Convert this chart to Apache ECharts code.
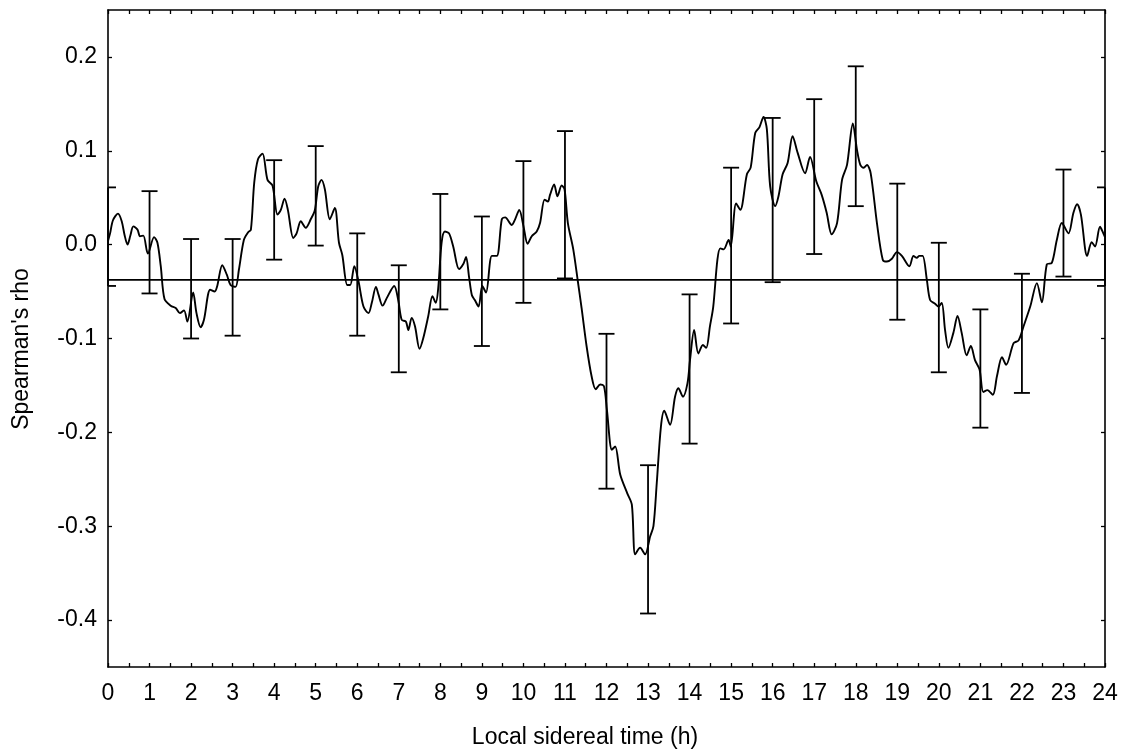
<!DOCTYPE html>
<html>
<head>
<meta charset="utf-8">
<script src="https://cdn.jsdelivr.net/npm/echarts@6/dist/echarts.min.js"></script>
<style>html,body{margin:0;padding:0;background:#fff;}#c{width:1122px;height:752px;}</style>
</head>
<body>
<div id="c"></div>
<script>
// ---- data ----
const hours = [0.00,0.05,0.12,0.24,0.33,0.40,0.47,0.54,0.61,0.71,0.77,0.85,0.96,1.11,1.19,1.27,1.36,1.51,1.63,1.73,1.83,1.91,2.05,2.13,2.23,2.31,2.46,2.57,2.63,2.75,2.86,2.95,3.07,3.15,3.27,3.37,3.44,3.52,3.61,3.72,3.84,3.96,4.08,4.16,4.25,4.33,4.46,4.54,4.64,4.76,4.88,4.98,5.06,5.14,5.22,5.34,5.46,5.56,5.64,5.76,5.83,5.93,6.03,6.15,6.27,6.35,6.45,6.51,6.61,6.71,6.89,6.99,7.07,7.17,7.23,7.31,7.39,7.50,7.59,7.71,7.81,7.89,7.95,8.03,8.11,8.21,8.31,8.45,8.56,8.62,8.69,8.76,8.83,8.92,9.01,9.10,9.24,9.36,9.48,9.56,9.72,9.80,9.90,10.00,10.10,10.20,10.32,10.40,10.51,10.59,10.64,10.74,10.82,10.92,10.99,11.07,11.20,11.31,11.40,11.52,11.64,11.74,11.85,11.94,12.01,12.13,12.21,12.33,12.50,12.61,12.69,12.81,12.93,13.05,13.13,13.21,13.31,13.39,13.53,13.65,13.73,13.84,13.95,14.01,14.11,14.21,14.32,14.40,14.49,14.57,14.67,14.74,14.82,14.94,14.99,15.12,15.22,15.38,15.47,15.58,15.68,15.78,15.86,15.94,16.06,16.14,16.24,16.36,16.48,16.60,16.78,16.90,17.05,17.18,17.30,17.42,17.55,17.67,17.79,17.93,18.03,18.11,18.19,18.27,18.36,18.51,18.65,18.75,18.87,18.99,19.11,19.29,19.39,19.47,19.53,19.61,19.71,19.79,19.91,19.99,20.07,20.15,20.23,20.35,20.45,20.55,20.67,20.77,20.87,20.98,21.07,21.17,21.30,21.40,21.52,21.62,21.80,21.92,22.04,22.20,22.36,22.48,22.60,22.72,22.84,22.96,23.12,23.24,23.33,23.42,23.57,23.68,23.76,23.88,23.96,24.00];
const rho = [0.004,0.012,0.026,0.033,0.025,0.010,0.000,0.010,0.0195,0.016,0.009,0.0096,-0.0096,0.008,0.002,-0.023,-0.058,-0.065,-0.0675,-0.073,-0.070,-0.082,-0.051,-0.073,-0.088,-0.080,-0.048,-0.050,-0.044,-0.022,-0.032,-0.043,-0.045,-0.027,0.005,0.013,0.016,0.066,0.091,0.097,0.069,0.063,0.032,0.037,0.049,0.037,0.007,0.012,0.025,0.018,0.027,0.037,0.062,0.069,0.059,0.027,0.039,0.002,-0.011,-0.043,-0.043,-0.023,-0.039,-0.066,-0.073,-0.062,-0.045,-0.053,-0.065,-0.057,-0.044,-0.060,-0.080,-0.082,-0.091,-0.078,-0.087,-0.111,-0.0995,-0.076,-0.055,-0.062,-0.046,0.002,0.014,0.012,-0.002,-0.026,-0.020,-0.013,-0.034,-0.054,-0.059,-0.066,-0.044,-0.051,-0.012,-0.012,0.027,0.029,0.021,0.027,0.037,0.020,0.001,0.009,0.014,0.023,0.048,0.046,0.053,0.064,0.0515,0.063,0.059,0.023,-0.005,-0.039,-0.0675,-0.108,-0.140,-0.154,-0.149,-0.151,-0.176,-0.2185,-0.215,-0.245,-0.265,-0.277,-0.330,-0.323,-0.330,-0.311,-0.300,-0.254,-0.194,-0.177,-0.192,-0.162,-0.153,-0.162,-0.1475,-0.123,-0.091,-0.116,-0.107,-0.110,-0.087,-0.066,-0.016,-0.004,-0.005,0.005,-0.002,0.044,0.037,0.075,0.082,0.119,0.125,0.136,0.123,0.062,0.041,0.0515,0.075,0.087,0.1155,0.098,0.076,0.0935,0.0675,0.053,0.034,0.011,0.023,0.069,0.085,0.129,0.101,0.085,0.082,0.085,0.076,0.023,-0.016,-0.018,-0.015,-0.008,-0.012,-0.023,-0.012,-0.014,-0.012,-0.012,-0.037,-0.059,-0.063,-0.066,-0.062,-0.091,-0.110,-0.094,-0.076,-0.094,-0.118,-0.108,-0.123,-0.133,-0.157,-0.155,-0.160,-0.140,-0.120,-0.128,-0.105,-0.102,-0.087,-0.066,-0.041,-0.0615,-0.021,-0.0195,0.005,0.023,0.012,0.034,0.043,0.032,-0.012,0.0025,-0.002,0.019,0.012,0.008];

const errHours = [0,1,2,3,4,5,6,7,8,9,10,11,12,13,14,15,16,17,18,19,20,21,22,23,24];
const errHi = [0.061,0.057,0.006,0.006,0.090,0.105,0.012,-0.022,0.054,0.030,0.089,0.121,-0.095,-0.235,-0.053,0.082,0.135,0.155,0.190,0.065,0.002,-0.069,-0.031,0.080,0.061];
const errLo = [-0.044,-0.052,-0.100,-0.097,-0.016,-0.001,-0.097,-0.136,-0.069,-0.108,-0.062,-0.036,-0.260,-0.393,-0.212,-0.084,-0.040,-0.010,0.041,-0.080,-0.136,-0.195,-0.158,-0.034,-0.044];

const refValue = -0.0375;

const xTickLabels = [0,1,2,3,4,5,6,7,8,9,10,11,12,13,14,15,16,17,18,19,20,21,22,23,24];
const xTickMarks = [0,0.5,1,1.5,2,2.5,3,3.5,4,4.5,5,5.5,6,6.5,7,7.5,8,8.5,9,9.5,10,10.5,11,11.5,12,12.5,13,13.5,14,14.5,15,15.5,16,16.5,17,17.5,18,18.5,19,19.5,20,20.5,21,21.5,22,22.5,23,23.5,24];
const yTickLabels = [-0.4,-0.3,-0.2,-0.1,0.0,0.1,0.2];

const xTitle = 'Local sidereal time (h)';
const yTitle = "Spearman's rho";

// ---- chart ----
const FONT = "'Liberation Sans', Arial, sans-serif";
const FS = 23;
const chart = echarts.init(document.getElementById('c'), null, {renderer: 'canvas'});

const axLine = {show: true, onZero: false, lineStyle: {color: '#000', width: 1.6}};
const tickStyle = {lineStyle: {color: '#000', width: 1.3}};

const option = {
  animation: false,
  backgroundColor: '#fff',
  grid: {left: 108, right: 17, top: 10, bottom: 85, show: false},
  xAxis: [
    {type: 'value', min: 0, max: 24, position: 'bottom',
     axisLine: axLine, splitLine: {show: false},
     axisTick: Object.assign({show: true, inside: true, length: 4, customValues: xTickMarks}, tickStyle),
     axisLabel: {show: true, customValues: xTickLabels, color: '#000', fontSize: FS, fontFamily: FONT, margin: 15}},
    {type: 'value', min: 0, max: 24, position: 'top',
     axisLine: axLine, splitLine: {show: false},
     axisTick: Object.assign({show: true, inside: true, length: 4, customValues: xTickMarks}, tickStyle),
     axisLabel: {show: false}}
  ],
  yAxis: [
    {type: 'value', min: -0.45, max: 0.25, position: 'left',
     axisLine: axLine, splitLine: {show: false},
     axisTick: Object.assign({show: true, inside: true, length: 4, customValues: yTickLabels}, tickStyle),
     axisLabel: {show: true, customValues: yTickLabels, color: '#000', fontSize: FS, fontFamily: FONT, margin: 11,
                 formatter: v => v.toFixed(1)}},
    {type: 'value', min: -0.45, max: 0.25, position: 'right',
     axisLine: axLine, splitLine: {show: false},
     axisTick: Object.assign({show: true, inside: true, length: 4, customValues: yTickLabels}, tickStyle),
     axisLabel: {show: false}}
  ],
  graphic: [
    {type: 'text', x: 585, y: 738, style: {text: xTitle, fill: '#000', font: FS + 'px ' + FONT, textAlign: 'center', textVerticalAlign: 'middle'}},
    {type: 'text', x: 22, y: 349, rotation: Math.PI / 2, style: {text: yTitle, fill: '#000', font: FS + 'px ' + FONT, textAlign: 'center', textVerticalAlign: 'middle'}}
  ],
  series: [
    {type: 'line', xAxisIndex: 0, yAxisIndex: 0,
     data: [[0, refValue], [24, refValue]], showSymbol: false, silent: true,
     lineStyle: {color: '#000', width: 1.6}},
    {type: 'line', xAxisIndex: 0, yAxisIndex: 0,
     data: hours.map((h, i) => [h, rho[i]]), showSymbol: false, smooth: 0.3, silent: true,
     lineStyle: {color: '#000', width: 1.9}},
    {type: 'custom', xAxisIndex: 0, yAxisIndex: 0, silent: true,
     data: errHours.map((h, i) => [h, errHi[i], errLo[i]]),
     renderItem: function (params, api) {
       const cs = params.coordSys;
       const h = api.value(0);
       const pHi = api.coord([h, api.value(1)]);
       const pLo = api.coord([h, api.value(2)]);
       const half = 8;
       const x1 = Math.max(pHi[0] - half, cs.x);
       const x2 = Math.min(pHi[0] + half, cs.x + cs.width);
       const st = {stroke: '#000', lineWidth: 1.8};
       return {type: 'group', children: [
         {type: 'line', shape: {x1: pHi[0], y1: pHi[1], x2: pLo[0], y2: pLo[1]}, style: st},
         {type: 'line', shape: {x1: x1, y1: pHi[1], x2: x2, y2: pHi[1]}, style: st},
         {type: 'line', shape: {x1: x1, y1: pLo[1], x2: x2, y2: pLo[1]}, style: st}
       ]};
     }}
  ]
};
chart.setOption(option);
</script>
</body>
</html>
